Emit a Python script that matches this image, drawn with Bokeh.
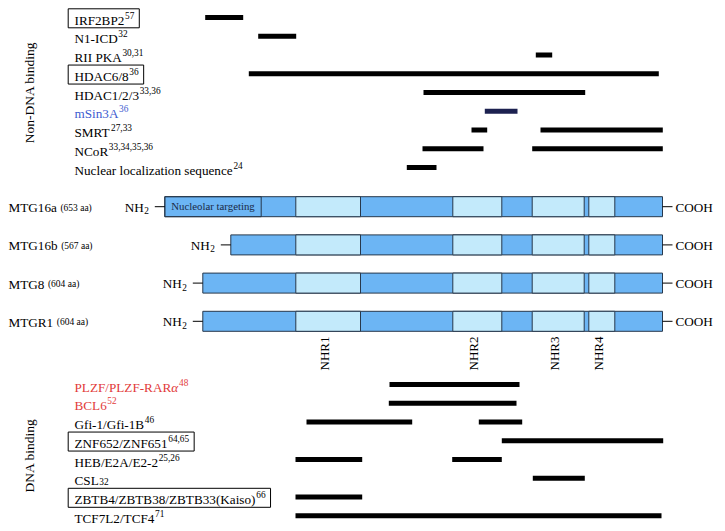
import math
from bokeh.plotting import figure
from bokeh.models import Range1d, ColumnDataSource
from bokeh.core.properties import value
from bokeh.embed import file_html
from bokeh.resources import INLINE

# ---------------- data (schematic positions along the protein) ----------------
top_labels = ["IRF2BP2", "N1-ICD", "RII PKA", "HDAC6/8", "HDAC1/2/3", "mSin3A",
              "SMRT", "NCoR", "Nuclear localization sequence"]
top_refs = ["57", "32", "30,31", "36", "33,36", "36", "27,33", "33,34,35,36", "24"]
top_boxed = [True, False, False, True, False, False, False, False, False]
top_bars = [
    [(204.7, 242.7)],
    [(257.7, 295.7)],
    [(535.3, 551.7)],
    [(248.3, 658.3)],
    [(423.0, 584.7)],
    [(484.3, 517.0)],
    [(471.0, 486.7), (540.0, 662.3)],
    [(422.0, 483.0), (531.7, 662.3)],
    [(406.3, 436.0)],
]

bottom_labels = ["PLZF/PLZF-RARα", "BCL6", "Gfi-1/Gfi-1B", "ZNF652/ZNF651", "HEB/E2A/E2-2",
                 "CSL", "ZBTB4/ZBTB38/ZBTB33(Kaiso)", "TCF7L2/TCF4"]
bottom_refs = ["48", "52", "46", "64,65", "25,26", "32", "66", "71"]
bottom_boxed = [False, False, False, True, False, False, True, False]
bottom_bars = [
    [(389.0, 519.0)],
    [(388.3, 516.0)],
    [(306.0, 411.7), (478.3, 521.7)],
    [(501.3, 662.7)],
    [(295.0, 361.7), (451.7, 501.3)],
    [(532.3, 584.3)],
    [(295.0, 361.7)],
    [(295.0, 661.0)],
]

protein_names = ["MTG16a", "MTG16b", "MTG8", "MTGR1"]
protein_sizes = ["(653 aa)", "(567 aa)", "(604 aa)", "(604 aa)"]
protein_start = [164.3, 230.3, 202.3, 202.3]
protein_end = [662.0, 662.0, 662.0, 662.0]
nucleolar_start = 164.3
nucleolar_end = 260.7

domain_names = ["NHR1", "NHR2", "NHR3", "NHR4"]
domain_start = [295.3, 452.3, 531.7, 588.3]
domain_end = [360.0, 501.3, 583.7, 614.3]

# ---------------- layout / style ----------------
FONT = value("Liberation Serif")
DARK = "#6cb5f4"
LIGHT = "#c3eafb"
EDGE = "#27384c"
RED = "#e23b3b"
BLUE = "#3d5bd0"
NAVY = "#1c2150"
label_color = {"mSin3A": BLUE, "PLZF/PLZF-RARα": RED, "BCL6": RED}
bar_color = {"mSin3A": NAVY}

TOP_Y0, BOT_Y0, ROW = 17.0, 384.0, 18.75
PROT_Y0, PROT_STEP, PROT_H = 206.2, 38.2, 20.0
LABEL_X = 74.0
FS, SFS = 13.2, 9.3
DY = -4.5  # svg text baseline correction

W = dict(zip("ABCDEFGHIJKLMNOPQRSTUVWXYZ",
             [722, 667, 667, 722, 611, 556, 722, 722, 333, 389, 722, 611, 889, 722, 722,
              556, 722, 667, 556, 611, 722, 722, 944, 722, 722, 611]))
W.update(dict(zip("abcdefghijklmnopqrstuvwxyz",
                  [444, 500, 444, 500, 444, 333, 500, 500, 278, 278, 500, 278, 778, 500, 500,
                   500, 500, 333, 389, 278, 500, 500, 722, 500, 500, 444])))
W.update({c: 500 for c in "0123456789"})
W.update({" ": 250, "-": 333, "/": 278, "(": 333, ")": 333, ",": 250, ".": 250, "α": 540})


def tw(s, size):
    return sum(W.get(c, 500) for c in s) / 1000.0 * size


p = figure(width=725, height=531, output_backend="svg", toolbar_location=None,
           x_range=Range1d(0, 725), y_range=Range1d(531, 0),
           x_axis_location=None, y_axis_location=None, min_border=0)
p.outline_line_color = None
p.grid.visible = False
p.background_fill_color = "white"

txt = dict(x=[], y=[], text=[], color=[], size=[], style=[], align=[])


def add_text(x, y, s, color="black", size=FS, style="normal", align="left"):
    txt["x"].append(x); txt["y"].append(y + DY); txt["text"].append(s)
    txt["color"].append(color); txt["size"].append(f"{size}px")
    txt["style"].append(style); txt["align"].append(align)


bars = dict(y=[], left=[], right=[], color=[])
boxes = dict(left=[], right=[], top=[], bottom=[])


def add_rows(labels, refs, boxed, bar_lists, y0):
    for i, (lab, ref, bx, bl) in enumerate(zip(labels, refs, boxed, bar_lists)):
        y = y0 + i * ROW
        base = y + 7.0
        col = label_color.get(lab, "black")
        main = lab[:-1] if lab.endswith("α") else lab
        add_text(LABEL_X, base, main, col)
        xe = LABEL_X + tw(main, FS)
        if lab.endswith("α"):
            add_text(xe, base, "α", col, style="italic")
            xe += tw("α", FS)
        raise_ = 1.0 if lab == "CSL" else -5.0
        add_text(xe + 0.6, base + raise_, ref, col, size=SFS)
        xr = xe + 0.6 + tw(ref, SFS)
        if bx:
            boxes["left"].append(LABEL_X - 6.3); boxes["right"].append(xr + 5.0)
            boxes["top"].append(y - 8.7); boxes["bottom"].append(y + 10.3)
        for (a, b) in bl:
            bars["y"].append(y); bars["left"].append(a); bars["right"].append(b)
            bars["color"].append(bar_color.get(lab, "black"))


add_rows(top_labels, top_refs, top_boxed, top_bars, TOP_Y0)
add_rows(bottom_labels, bottom_refs, bottom_boxed, bottom_bars, BOT_Y0)

# proteins
prot = dict(left=[], right=[], top=[], bottom=[])
dom = dict(left=[], right=[], top=[], bottom=[])
dash = dict(x0=[], x1=[], y=[])
for i, (nm, sz, s, e) in enumerate(zip(protein_names, protein_sizes, protein_start, protein_end)):
    y = PROT_Y0 + i * PROT_STEP
    prot["left"].append(s); prot["right"].append(e)
    prot["top"].append(y - PROT_H / 2); prot["bottom"].append(y + PROT_H / 2)
    for a, b in zip(domain_start, domain_end):
        dom["left"].append(a); dom["right"].append(b)
        dom["top"].append(y - PROT_H / 2); dom["bottom"].append(y + PROT_H / 2)
    add_text(8, y + 5.5, nm)
    add_text(8 + tw(nm, FS) + 3.5, y + 5.5, sz, size=9.5)
    add_text(s - 21, y + 5, "NH", align="right")
    add_text(s - 20.5, y + 8.5, "2", size=SFS)
    dash["x0"].append(s - 10); dash["x1"].append(s); dash["y"].append(y)
    dash["x0"].append(e); dash["x1"].append(e + 10); dash["y"].append(y)
    add_text(e + 13, y + 5, "COOH")

p.quad(source=ColumnDataSource(prot), left="left", right="right", top="top", bottom="bottom",
       fill_color=DARK, line_color=EDGE, line_width=1)
p.quad(source=ColumnDataSource(dom), left="left", right="right", top="top", bottom="bottom",
       fill_color=LIGHT, line_color=EDGE, line_width=1)
p.quad(left=[nucleolar_start], right=[nucleolar_end], top=[PROT_Y0 - PROT_H / 2],
       bottom=[PROT_Y0 + PROT_H / 2], fill_color=None, line_color=EDGE, line_width=1)
add_text((nucleolar_start + nucleolar_end) / 2, PROT_Y0 + 4.0, "Nucleolar targeting",
         color="#1a2a48", size=10.8, align="center")
p.segment(source=ColumnDataSource(dash), x0="x0", x1="x1", y0="y", y1="y",
          line_color="black", line_width=1)

p.hbar(source=ColumnDataSource(bars), y="y", left="left", right="right", height=5,
       fill_color="color", line_color=None)
p.quad(source=ColumnDataSource(boxes), left="left", right="right", top="top", bottom="bottom",
       fill_color=None, line_color="black", line_width=1)

p.text(source=ColumnDataSource(txt), x="x", y="y", text="text", text_color="color",
       text_font=FONT, text_font_size="size", text_font_style="style", text_align="align",
       text_baseline="alphabetic")

# rotated labels
dom_centers = [(a + b) / 2 - 3.5 for a, b in zip(domain_start, domain_end)]
p.text(x=dom_centers, y=[353] * 4, text=domain_names, angle=math.pi / 2,
       text_font=FONT, text_font_size="13px", text_align="center", text_baseline="middle",
       text_color="black")
p.text(x=[28.5, 28.5], y=[92, 455], text=["Non-DNA binding", "DNA binding"], angle=math.pi / 2,
       text_font=FONT, text_font_size="13.5px", text_align="center", text_baseline="middle",
       text_color="black")

open("out.html", "w").write(file_html(p, INLINE))
